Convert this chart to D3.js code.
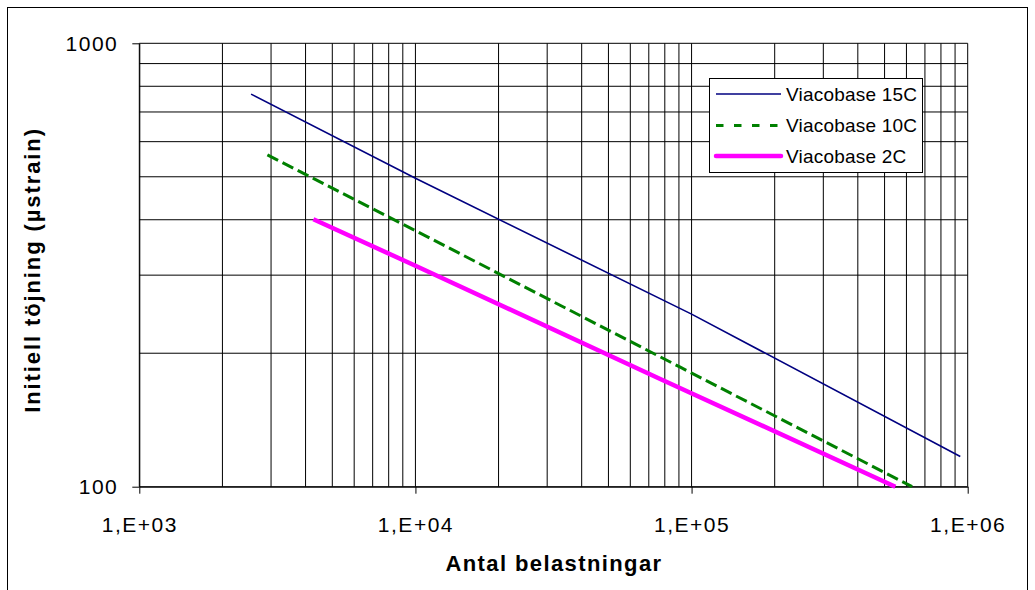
<!DOCTYPE html>
<meta charset="utf-8">
<style>
    body {
        margin: 0;
        background: #fff;
    }

    svg {
        font-family: Arial, "Liberation Sans", sans-serif;
    }

    .grid line {
        stroke: #000;
        stroke-width: 1;
    }

    .axis path,
    .axis line {
        fill: none;
        stroke: #000;
    }
</style>
<body>
<script src="https://cdn.jsdelivr.net/npm/d3@7"></script>
<script>
    // values (log-log, straight lines)
    const seriesNames = ["Viacobase 15C", "Viacobase 10C", "Viacobase 2C"];
    const cycles15 = [2540, 10000, 100000, 940000];
    const strain15 = [768, 496, 245, 117];
    const cycles10 = [2910, 10000, 91000, 629000];
    const strain10 = [560, 378, 186, 100];
    const cycles2 = [4270, 10000, 77000, 547000];
    const strain2 = [401, 315, 175, 100];

    const xTickValues = [1e3, 1e4, 1e5, 1e6];
    const xTickLabels = ["1,E+03", "1,E+04", "1,E+05", "1,E+06"];
    const yTickValues = [100, 1000];
    const yTickLabels = ["100", "1000"];

    const width = 1035;
    const height = 590;

    const svg = d3.select('body')
        .append('svg')
        .attr('width', width)
        .attr('height', height);

    // outer chart frame (bottom edge runs past the picture)
    svg.append('rect')
        .attr('x', 7.5)
        .attr('y', 7.5)
        .attr('width', 1020)
        .attr('height', 620)
        .style('fill', 'none')
        .style('stroke', '#000')
        .style('stroke-width', 1);

    const x = d3.scaleLog().domain([1e3, 1e6]).range([139.3, 967.7]);
    const y = d3.scaleLog().domain([100, 1000]).range([486.7, 43.3]);

    // gridlines
    const grid = svg.append('g').attr('class', 'grid');
    grid.selectAll('line.v')
        .data(x.ticks())
        .enter().append('line')
        .attr('class', 'v')
        .attr('x1', d => x(d)).attr('x2', d => x(d))
        .attr('y1', y(1000)).attr('y2', y(100));
    grid.selectAll('line.h')
        .data(y.ticks())
        .enter().append('line')
        .attr('class', 'h')
        .attr('x1', x(1e3)).attr('x2', x(1e6))
        .attr('y1', d => y(d)).attr('y2', d => y(d));

    // x axis
    const xAxis = d3.axisBottom(x)
        .tickValues(xTickValues)
        .tickFormat((d, i) => xTickLabels[i])
        .tickSizeInner(7)
        .tickSizeOuter(0)
        .tickPadding(23);

    svg.append('g')
        .attr('class', 'x axis')
        .attr('transform', 'translate(0,' + y(100) + ')')
        .call(xAxis)
        .selectAll('text')
        .style('font-size', '21px')
        .style('letter-spacing', '1.5px')
        .style('fill', '#000');

    // y axis
    const yAxis = d3.axisLeft(y)
        .tickValues(yTickValues)
        .tickFormat((d, i) => yTickLabels[i])
        .tickSizeInner(7)
        .tickSizeOuter(0)
        .tickPadding(14);

    svg.append('g')
        .attr('class', 'y axis')
        .attr('transform', 'translate(' + x(1e3) + ',0)')
        .call(yAxis)
        .selectAll('text')
        .style('font-size', '21px')
        .style('letter-spacing', '1.5px')
        .style('fill', '#000');

    // axis titles
    svg.append('text')
        .attr('x', 554)
        .attr('y', 571)
        .style('text-anchor', 'middle')
        .style('font-size', '22px')
        .style('font-weight', 'bold')
        .style('letter-spacing', '1.4px')
        .text('Antal belastningar');

    svg.append('text')
        .attr('transform', 'translate(40,270) rotate(-90)')
        .style('text-anchor', 'middle')
        .style('font-size', '22px')
        .style('font-weight', 'bold')
        .style('letter-spacing', '1.9px')
        .text('Initiell töjning (µstrain)');

    // series
    const series = [
        {name: seriesNames[0], n: cycles15, e: strain15, color: '#000080', w: 1.6, dash: null, legDash: null},
        {name: seriesNames[1], n: cycles10, e: strain10, color: '#008000', w: 3, dash: '12,5', legDash: '7.5,10.5'},
        {name: seriesNames[2], n: cycles2, e: strain2, color: '#ff00ff', w: 4.5, dash: null, legDash: null}
    ];

    const line = d3.line()
        .x(d => x(d[0]))
        .y(d => y(d[1]));

    svg.append('g')
        .attr('class', 'lines')
        .selectAll('path')
        .data(series)
        .enter().append('path')
        .attr('d', s => line(s.n.map((v, i) => [v, s.e[i]])))
        .style('fill', 'none')
        .style('stroke', s => s.color)
        .style('stroke-width', s => s.w)
        .style('stroke-dasharray', s => s.dash);

    // legend
    const legend = svg.append('g').attr('class', 'legend');
    legend.append('rect')
        .attr('x', 709.5)
        .attr('y', 78.5)
        .attr('width', 213)
        .attr('height', 94)
        .style('fill', '#fff')
        .style('stroke', '#000')
        .style('stroke-width', 1);

    const legendRows = [94, 125.5, 156];
    const item = legend.selectAll('g.item')
        .data(series)
        .enter().append('g')
        .attr('class', 'item')
        .attr('transform', (d, i) => 'translate(0,' + legendRows[i] + ')');

    item.append('line')
        .attr('x1', 716).attr('x2', 781)
        .attr('y1', 0).attr('y2', 0)
        .style('stroke', d => d.color)
        .style('stroke-width', d => d.w)
        .style('stroke-linecap', (d, i) => i === 2 ? 'round' : 'butt')
        .style('stroke-dasharray', d => d.legDash);

    item.append('text')
        .attr('x', 786)
        .attr('y', 0)
        .attr('dy', '0.35em')
        .style('font-size', '19px')
        .style('letter-spacing', '0.2px')
        .text(d => d.name);
</script>
</body>
</html>
